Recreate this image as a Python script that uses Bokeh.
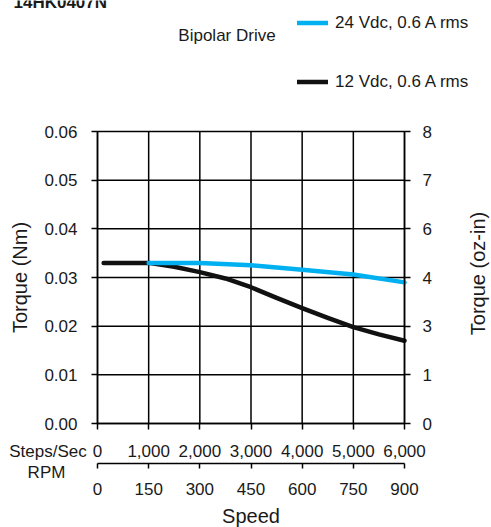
import math
from bokeh.plotting import figure
from bokeh.models import (Range1d, LinearAxis, FixedTicker, Label, Legend, LegendItem,
                          NumeralTickFormatter)
from bokeh.embed import file_html
from bokeh.resources import INLINE

# ---------------- data ----------------
title_text = "14HK0407N"
drive_text = "Bipolar Drive"
name_24 = "24 Vdc, 0.6 A rms"
name_12 = "12 Vdc, 0.6 A rms"

steps_12 = [120, 1000, 1500, 2000, 2500, 3000, 3500, 4000, 4500, 5000, 5500, 6000]
torque_12 = [0.0330, 0.0330, 0.0322, 0.0311, 0.0298, 0.0280, 0.0258, 0.0237, 0.0217, 0.0198, 0.0183, 0.0170]

steps_24 = [1000, 2000, 3000, 4000, 5000, 6000]
torque_24 = [0.0330, 0.0330, 0.0325, 0.0316, 0.0306, 0.0290]

steps_ticks = [0, 1000, 2000, 3000, 4000, 5000, 6000]
rpm_ticks = [0, 150, 300, 450, 600, 750, 900]
nm_ticks = [0.0, 0.01, 0.02, 0.03, 0.04, 0.05, 0.06]
ozin_labels = ["0", "1", "3", "4", "6", "7", "8"]

x_label_steps = "Steps/Sec"
x_label_rpm = "RPM"
x_title = "Speed"
y_title_left = "Torque (Nm)"
y_title_right = "Torque (oz-in)"

# ---------------- layout (pixels) ----------------
W, H = 491, 527
PL, PT, PR, PB = 97, 131, 404, 423            # plot area inside the canvas
STEPS_MAX, NM_MAX, RPM_MAX = 6000, 0.06, 900
PW, PH = PR - PL, PB - PT

FONT = "Liberation Sans"
INK = "#1a1a1a"


def xr(span):
    return Range1d(-PL / PW * span, (W - PL) / PW * span)


p = figure(width=W, height=H, output_backend="svg", toolbar_location=None,
           x_range=xr(STEPS_MAX),
           y_range=Range1d(-(H - PB) / PH * NM_MAX, NM_MAX + PT / PH * NM_MAX),
           x_axis_type=None, y_axis_type=None,
           min_border=0, min_border_left=0, min_border_right=0,
           min_border_top=0, min_border_bottom=0)
p.background_fill_color = "white"
p.border_fill_color = "white"
p.outline_line_color = None
p.xgrid.visible = False
p.ygrid.visible = False
p.extra_x_ranges = {"rpm": xr(RPM_MAX)}


def at(px, py):
    """canvas pixel -> data coordinates"""
    return ((px - PL) / PW * STEPS_MAX, (PB - py) / PH * NM_MAX)


def style_axis(ax, tick_out, standoff):
    ax.axis_line_color = "black"
    ax.axis_line_width = 1.5
    ax.major_tick_line_color = "black"
    ax.major_tick_line_width = 1.5
    ax.major_tick_in = 0
    ax.major_tick_out = tick_out
    ax.minor_tick_line_color = None
    ax.major_label_standoff = standoff
    ax.major_label_text_font = FONT
    ax.major_label_text_font_size = "17px"
    ax.major_label_text_color = INK


# grid + frame (drawn from the tick lists)
n_x, n_y = len(steps_ticks), len(nm_ticks)
p.segment(x0=steps_ticks, y0=[nm_ticks[0]] * n_x, x1=steps_ticks, y1=[nm_ticks[-1]] * n_x,
          line_color="black", line_width=1.5)
p.segment(x0=[steps_ticks[0]] * n_y, y0=nm_ticks, x1=[steps_ticks[-1]] * n_y, y1=nm_ticks,
          line_color="black", line_width=1.5)

# left axis (Nm)
left = LinearAxis(ticker=FixedTicker(ticks=nm_ticks), fixed_location=steps_ticks[0],
                  bounds=(nm_ticks[0], nm_ticks[-1]),
                  formatter=NumeralTickFormatter(format="0.00"))
style_axis(left, 6, 14)
left.axis_label = y_title_left
left.axis_label_text_font = FONT
left.axis_label_text_font_size = "20px"
left.axis_label_text_font_style = "normal"
left.axis_label_text_color = INK
left.axis_label_standoff = 10
p.add_layout(left, "left")

# right axis (oz-in labels at the Nm gridlines)
right = LinearAxis(ticker=FixedTicker(ticks=nm_ticks), fixed_location=steps_ticks[-1],
                   bounds=(nm_ticks[0], nm_ticks[-1]),
                   major_label_overrides=dict(zip(nm_ticks, ozin_labels)))
style_axis(right, 6, 12)
p.add_layout(right, "right")

# bottom axis 1: steps/sec
bx1 = LinearAxis(ticker=FixedTicker(ticks=steps_ticks), fixed_location=nm_ticks[0],
                 bounds=(steps_ticks[0], steps_ticks[-1]),
                 formatter=NumeralTickFormatter(format="0,0"))
style_axis(bx1, 6, 15)
p.add_layout(bx1, "below")

# bottom axis 2: rpm (second scale, 40 px below the plot area)
bx2 = LinearAxis(x_range_name="rpm", ticker=FixedTicker(ticks=rpm_ticks),
                 fixed_location=at(0, PB + 40)[1],
                 bounds=(rpm_ticks[0], rpm_ticks[-1]),
                 formatter=NumeralTickFormatter(format="0"))
style_axis(bx2, 5, 14)
bx2.axis_label = x_title
bx2.axis_label_text_font = FONT
bx2.axis_label_text_font_size = "20px"
bx2.axis_label_text_font_style = "normal"
bx2.axis_label_text_color = INK
bx2.axis_label_standoff = 7
p.add_layout(bx2, "below")

# series
r12 = p.line(steps_12, torque_12, line_color="#111111", line_width=4.5,
             line_cap="round", line_join="round")
r24 = p.line(steps_24, torque_24, line_color="#00B0F0", line_width=4.5,
             line_cap="round", line_join="round")

legend = Legend(items=[LegendItem(label=name_24, renderers=[r24]),
                       LegendItem(label=name_12, renderers=[r12])],
                location=(297, H - 92), orientation="vertical",
                padding=0, margin=0, spacing=38,
                glyph_width=31, glyph_height=21, label_height=21,
                label_standoff=7, border_line_color=None,
                background_fill_alpha=0.0,
                label_text_font=FONT, label_text_font_size="17px",
                label_text_color=INK)
p.add_layout(legend, "center")


def add_label(text, px, py, size="17px", align="left", style="normal", angle=0.0):
    x, y = at(px, py)
    p.add_layout(Label(x=x, y=y, text=text, text_font=FONT, text_font_size=size,
                       text_align=align, text_baseline="middle",
                       text_font_style=style, text_color=INK, angle=angle))


add_label(title_text, 13, 2.2, style="bold")
add_label(drive_text, 226.5, 34.7, align="center")
add_label(x_label_steps, 47.5, 451, align="center")
add_label(x_label_rpm, 46, 472, align="center")
add_label(y_title_right, 477, 273, size="20px", align="center", angle=math.pi / 2)

open("out.html", "w").write(file_html(p, INLINE))
